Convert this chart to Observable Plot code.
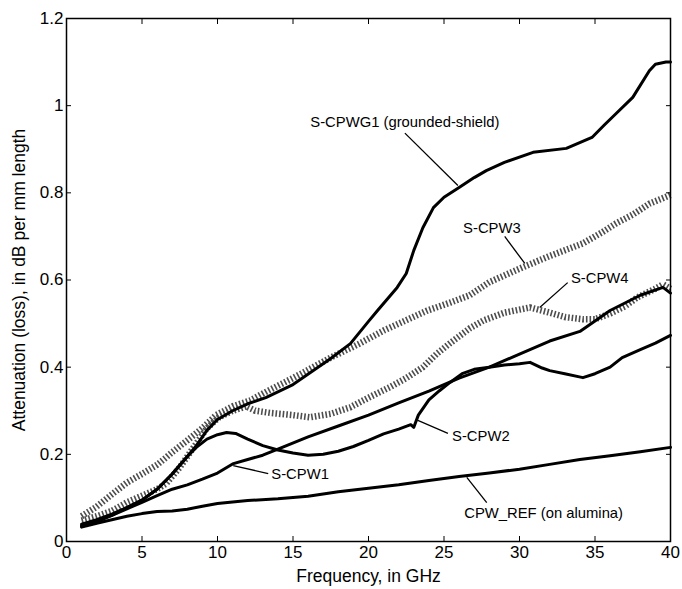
<!DOCTYPE html>
<html>
<head>
<meta charset="utf-8">
<script src="https://cdn.jsdelivr.net/npm/d3@7"></script>
<script src="https://cdn.jsdelivr.net/npm/@observablehq/plot@0.6"></script>
<style>
  html, body { margin: 0; padding: 0; background: #fff; }
  #chart svg { display: block; }
</style>
</head>
<body>
<div id="chart"></div>
<script>
// ---- tick values ----
const xTicks = [0, 5, 10, 15, 20, 25, 30, 35, 40];
const yTicks = [0, 0.2, 0.4, 0.6, 0.8, 1, 1.2];
const xTitle = "Frequency, in GHz";
const yTitle = "Attenuation (loss), in dB per mm length";

// ---- series (frequency in GHz, attenuation in dB/mm) ----
const refF = [1, 2, 3, 4, 5, 6, 7, 8, 9, 10, 12, 14, 16, 18, 20, 22, 24, 26, 28, 30, 32, 34, 36, 38, 40];
const refV = [0.033, 0.042, 0.05, 0.058, 0.064, 0.069, 0.07, 0.074, 0.081, 0.087, 0.094, 0.098, 0.104, 0.114, 0.122, 0.13, 0.14, 0.149, 0.157, 0.166, 0.177, 0.188, 0.197, 0.206, 0.216];

const cpw1F = [1, 2, 3, 4, 5, 6, 7, 8, 9, 10, 11, 12, 13, 14, 16, 18, 20, 22, 24, 26, 28, 30, 32, 34, 36, 38, 39.5, 40];
const cpw1V = [0.037, 0.048, 0.06, 0.075, 0.09, 0.105, 0.12, 0.13, 0.143, 0.157, 0.178, 0.188, 0.198, 0.212, 0.24, 0.265, 0.29, 0.318, 0.345, 0.375, 0.4, 0.43, 0.46, 0.482, 0.53, 0.565, 0.583, 0.57];

const cpw2F = [1, 2, 3, 4, 5, 6, 7, 8, 8.6, 9.3, 10, 10.6, 11.2, 12, 13, 14, 15, 16, 17, 18, 19, 20, 21, 22, 22.8, 23, 23.3, 24, 24.7, 25.4, 26.2, 27, 28, 29, 30, 30.7, 31.5, 32, 33, 34.2, 35, 36, 36.8, 38, 39, 40];
const cpw2V = [0.035, 0.045, 0.06, 0.078, 0.095, 0.12, 0.155, 0.195, 0.216, 0.235, 0.245, 0.25, 0.248, 0.235, 0.22, 0.21, 0.203, 0.198, 0.2, 0.207, 0.218, 0.232, 0.247, 0.258, 0.268, 0.262, 0.29, 0.325, 0.346, 0.365, 0.385, 0.395, 0.4, 0.405, 0.408, 0.411, 0.398, 0.392, 0.385, 0.376, 0.385, 0.4, 0.422, 0.44, 0.455, 0.473];

const cpwg1F = [1, 2, 3, 4, 5, 6, 7, 8, 8.6, 9.3, 10, 11, 12, 13.2, 15, 17.5, 18.8, 20, 20.6, 21.9, 22.5, 23, 23.6, 24.3, 25, 26, 27, 27.8, 29, 30.9, 33.1, 34.8, 35.6, 36.4, 37.5, 38.6, 39, 39.7, 40];
const cpwg1V = [0.04, 0.05, 0.063, 0.078, 0.095, 0.12, 0.155, 0.195, 0.22, 0.255, 0.28, 0.3, 0.316, 0.33, 0.36, 0.42, 0.454, 0.505, 0.53, 0.583, 0.615, 0.668, 0.72, 0.766, 0.79, 0.812, 0.835, 0.851, 0.87, 0.893, 0.902, 0.927, 0.955, 0.982, 1.019, 1.08, 1.095, 1.1, 1.1];

const cpw3F = [1, 2, 3, 4, 5, 6, 6.6, 7, 8, 9, 9.9, 11, 12.2, 13.3, 15, 17.5, 19.4, 21, 23.9, 25.4, 26.7, 28, 30.2, 32, 34.2, 35.5, 36.4, 37.5, 38.6, 40];
const cpw3V = [0.058, 0.08, 0.108, 0.135, 0.155, 0.176, 0.193, 0.205, 0.232, 0.26, 0.29, 0.31, 0.324, 0.345, 0.375, 0.422, 0.454, 0.484, 0.53, 0.548, 0.565, 0.595, 0.629, 0.655, 0.684, 0.71, 0.73, 0.75, 0.775, 0.795];

const cpw4F = [1, 2, 3, 4, 5, 6, 6.6, 7.5, 8.6, 9.3, 10.1, 11, 11.9, 12.5, 13.5, 15, 16.1, 17.5, 18.8, 20, 21.4, 22.5, 23.6, 24.5, 25.4, 26.7, 27.6, 29, 30.7, 32, 33, 34.2, 35, 36, 37, 37.8, 39, 39.5, 40];
const cpw4V = [0.048, 0.058, 0.07, 0.09, 0.105, 0.12, 0.133, 0.17, 0.225, 0.26, 0.285, 0.3, 0.31, 0.3, 0.295, 0.29, 0.285, 0.293, 0.308, 0.33, 0.354, 0.375, 0.4, 0.43, 0.455, 0.489, 0.507, 0.525, 0.537, 0.525, 0.515, 0.51, 0.51, 0.523, 0.54, 0.56, 0.58, 0.59, 0.58];

// ---- annotations: label, label position, leader line ----
const annoText = ["S-CPWG1 (grounded-shield)", "S-CPW3", "S-CPW4", "S-CPW2", "CPW_REF (on alumina)", "S-CPW1"];
const annoX  = [22.41, 28.17, 35.31, 27.44, 31.6, 15.47];
const annoY  = [0.963, 0.718, 0.603, 0.241, 0.064, 0.154];
const leadX1 = [22.41, 29.02, 33.19, 25.26, 27.83, 13.36];
const leadY1 = [0.937, 0.700, 0.594, 0.248, 0.089, 0.156];
const leadX2 = [25.92, 30.35, 31.34, 23.27, 26.51, 11.04];
const leadY2 = [0.817, 0.638, 0.537, 0.278, 0.147, 0.174];

// ---- build tables ----
const seriesDefs = [
  {name: "S-CPW3", f: cpw3F, v: cpw3V, hatched: true},
  {name: "S-CPW4", f: cpw4F, v: cpw4V, hatched: true},
  {name: "CPW_REF", f: refF, v: refV, hatched: false},
  {name: "S-CPW1", f: cpw1F, v: cpw1V, hatched: false},
  {name: "S-CPW2", f: cpw2F, v: cpw2V, hatched: false},
  {name: "S-CPWG1", f: cpwg1F, v: cpwg1V, hatched: false}
];
const rows = seriesDefs.flatMap(s => s.f.map((f, i) => ({series: s.name, f, v: s.v[i], hatched: s.hatched})));
const hatchedRows = rows.filter(d => d.hatched);
const solidRows = rows.filter(d => !d.hatched);
const annos = annoText.map((t, i) => ({t, x: annoX[i], y: annoY[i], x1: leadX1[i], y1: leadY1[i], x2: leadX2[i], y2: leadY2[i]}));

const fmt = d3.format("~g");

const chart = Plot.plot({
  width: 682,
  height: 589,
  marginLeft: 66,
  marginRight: 12,
  marginTop: 18,
  marginBottom: 48,
  style: {fontFamily: "'Liberation Sans', Arial, Helvetica, sans-serif", fontSize: "17px", color: "black", background: "white"},
  x: {domain: [0, 40], label: null},
  y: {domain: [0, 1.2], label: null},
  marks: [
    Plot.line(hatchedRows, {x: "f", y: "v", z: "series", stroke: "#4d4d4d", strokeWidth: 6.5, strokeDasharray: "1.6,2", strokeLinecap: "butt", strokeLinejoin: "miter", curve: "linear"}),
    Plot.line(solidRows, {x: "f", y: "v", z: "series", stroke: "black", strokeWidth: 3, strokeLinejoin: "round", curve: "linear"}),
    Plot.link(annos, {x1: "x1", y1: "y1", x2: "x2", y2: "y2", stroke: "black", strokeWidth: 1.3}),
    Plot.text(annos, {x: "x", y: "y", text: "t", fontSize: 14.8, fill: "black"}),
    Plot.frame({stroke: "black", strokeWidth: 1.5}),
    Plot.axisX(xTicks, {anchor: "bottom", tickSize: -5, tickPadding: 9, tickFormat: fmt, fontSize: 17, label: null}),
    Plot.axisX(xTicks, {anchor: "top", tickSize: -5, tickFormat: () => "", label: null}),
    Plot.axisY(yTicks, {anchor: "left", tickSize: -5, tickPadding: 8, tickFormat: fmt, fontSize: 17, label: null}),
    Plot.axisY(yTicks, {anchor: "right", tickSize: -5, tickFormat: () => "", label: null}),
    Plot.text([xTitle], {frameAnchor: "bottom", dy: 28, lineAnchor: "top", fontSize: 17.5, fill: "black"}),
    Plot.text([yTitle], {frameAnchor: "left", dx: -47, rotate: -90, textAnchor: "middle", fontSize: 17.5, fill: "black"})
  ]
});
document.getElementById("chart").appendChild(chart);
</script>
</body>
</html>
